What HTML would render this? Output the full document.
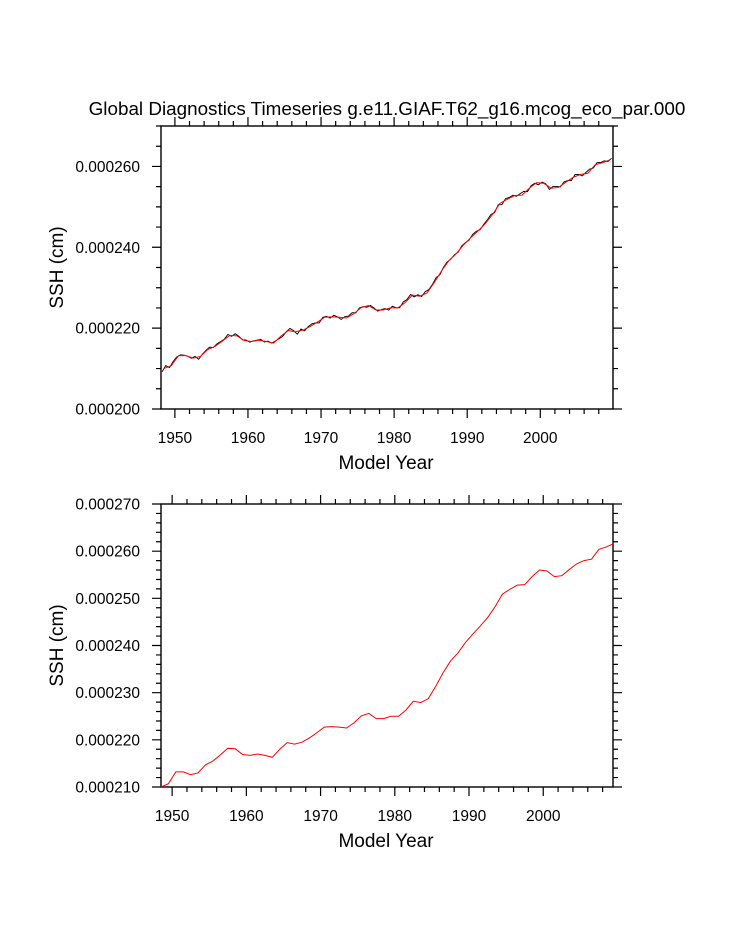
<!DOCTYPE html>
<html><head><meta charset="utf-8">
<style>
html,body{margin:0;padding:0;background:#fff;}
svg{display:block;font-family:"Liberation Sans",sans-serif;}
</style></head>
<body>
<svg id="chart" width="733" height="945" viewBox="0 0 733 945" xmlns="http://www.w3.org/2000/svg">
<text x="387" y="115" font-size="18.85" text-anchor="middle">Global Diagnostics Timeseries g.e11.GIAF.T62_g16.mcog_eco_par.000</text>
<g id="top"></g>
<g id="bot"></g>
</svg>
<script>
// annual SSH values (1e-6 cm), years 1948.5..2009.5
const years = [];
for (let i = 0; i < 62; i++) years.push(1948.5 + i);
const sshAnnual = [210.0,210.7,213.2,213.2,212.6,213.0,214.7,215.5,216.8,218.2,218.1,216.9,216.7,217.0,216.7,216.3,218.0,219.4,219.1,219.5,220.4,221.5,222.7,222.8,222.7,222.5,223.6,225.1,225.6,224.5,224.5,225.0,225.0,226.3,228.2,227.9,228.7,231.3,234.2,236.7,238.4,240.6,242.4,244.1,245.9,248.2,250.9,251.9,252.8,252.9,254.6,256.0,255.8,254.6,254.8,256.1,257.3,258.0,258.3,260.4,260.9,261.6];
// half-yearly deviation of raw (black) series from smooth (1e-6 cm)
const sshDev = [-0.8,0.6,-0.3,0.4,0.3,0.2,0.1,0.0,-0.2,0.3,-0.6,0.1,0.2,0.4,-0.1,0.3,0.2,0.1,0.6,-0.2,0.5,0.2,-0.1,0.2,-0.2,0.1,0.1,0.3,-0.2,0.2,-0.1,0.1,-0.2,-0.4,0.1,0.6,0.2,-0.7,0.4,-0.4,0.2,0.4,0.1,-0.5,0.3,0.2,-0.3,0.4,0.1,-0.5,0.3,0.2,0.5,-0.2,0.3,0.1,-0.3,0.3,0.2,-0.3,0.1,0.2,-0.4,0.4,0.1,-0.3,0.5,0.3,0.6,-0.4,0.3,-0.3,0.5,0.2,0.2,0.5,-0.3,0.2,0.3,-0.1,0.2,-0.2,0.3,0.1,-0.2,0.4,0.3,-0.2,0.2,0.3,0.5,-0.3,0.3,-0.6,0.4,0.2,0.3,-0.2,0.4,0.5,-0.4,0.3,0.2,-0.5,0.3,0.2,-0.6,0.4,0.3,-0.2,0.4,0.1,-0.5,0.5,0.2,-0.4,0.3,0.5,-0.3,0.4,0.2,0.3,-0.2,0.4];
const topYTicks = ["0.000200","0.000220","0.000240","0.000260"];
const botYTicks = ["0.000210","0.000220","0.000230","0.000240","0.000250","0.000260","0.000270"];
const xTickYears = [1950,1960,1970,1980,1990,2000];

const NS = "http://www.w3.org/2000/svg";
function mk(parent, tag, attrs){const e=document.createElementNS(NS,tag);for(const k in attrs)e.setAttribute(k,attrs[k]);parent.appendChild(e);return e;}

function panel(g, L, R, T, B, x0, x1, y0, y1, yMajor, yMinor, yLabels, series){
  const sx = v => L + (v - x0) / (x1 - x0) * (R - L);
  const sy = v => B - (v - y0) / (y1 - y0) * (B - T);
  const frame = mk(g,'rect',{x:L,y:T,width:R-L,height:B-T,fill:'none',stroke:'#000','stroke-width':1.4});
  
  
  let d='';
  for (let yr=1940; yr<=2020; yr+=2){
    if (yr < x0 || yr > x1) continue;
    const len = yr % 10 === 0 ? 9 : 5;
    const x = sx(yr);
    d += `M${x},${B}v${len}M${x},${T}v${-len}`;
  }
  for (let v=y0; v<=y1+1e-9; v+=yMinor){
    const k = Math.round((v - y0)/yMajor*1000)/1000;
    const len = Math.abs(k-Math.round(k))<1e-6 ? 9 : 5;
    const y = sy(v);
    d += `M${L},${y}h${-len}M${R},${y}h${len}`;
  }
  const ticks = mk(g,'path',{d:d,stroke:'#000','stroke-width':1.2,fill:'none'});
  
  
  xTickYears.forEach(yr=>{
    const t = mk(g,'text',{x:sx(yr),y:B+34,'font-size':15.5,'text-anchor':'middle'});
    t.textContent = yr;
    
    
  });
  yLabels.forEach((lab,i)=>{
    const t = mk(g,'text',{x:L-21,y:sy(y0+i*yMajor)+5.5,'font-size':15.5,'text-anchor':'end'});
    t.textContent = lab;
    
    
  });
  const xt = mk(g,'text',{x:(L+R)/2-1,y:B+60,'font-size':19,'text-anchor':'middle'});
  xt.textContent='Model Year';
  
  
  const yt = mk(g,'text',{x:0,y:0,'font-size':19,'text-anchor':'middle',transform:`translate(63,${(T+B)/2}) rotate(-90)`});
  yt.textContent='SSH (cm)';
  
  
  series.forEach(s=>{
    const pts = s.xs.map((x,i)=>`${sx(x).toFixed(2)},${sy(s.ys[i]).toFixed(2)}`).join(' ');
    const pl = mk(g,'polyline',{points:pts,fill:'none',stroke:s.color,'stroke-width':s.w});
    
    
  });
}

// top panel: raw (black) + smoothed (red)
const rawX=[], rawY=[];
sshDev.forEach((dv,i)=>{
  const t = 1948.25 + i*0.5;
  const f = Math.max(0, Math.min(61, t - 1948.5));
  const i0 = Math.min(60, Math.floor(f));
  const base = sshAnnual[i0] + (sshAnnual[i0+1]-sshAnnual[i0])*(f-i0);
  rawX.push(t); rawY.push((base+dv)*1e-6);
});
const annY = sshAnnual.map(v=>v*1e-6);
panel(document.getElementById('top'),161,613,126,409,1948.1,2009.95,0.000200,0.000270,0.00002,0.000005,topYTicks,
  [{xs:rawX,ys:rawY,color:'#000',w:0.9,name:'raw-ssh-line'},{xs:years,ys:annY,color:'#ff0000',w:1,name:'smoothed-ssh-line'}]);
panel(document.getElementById('bot'),161,613,504,787,1948.5,2009.4,0.000210,0.000270,0.00001,0.000002,botYTicks,
  [{xs:years,ys:annY,color:'#ff0000',w:1,name:'annual-ssh-line'}]);
</script>
</body></html>
